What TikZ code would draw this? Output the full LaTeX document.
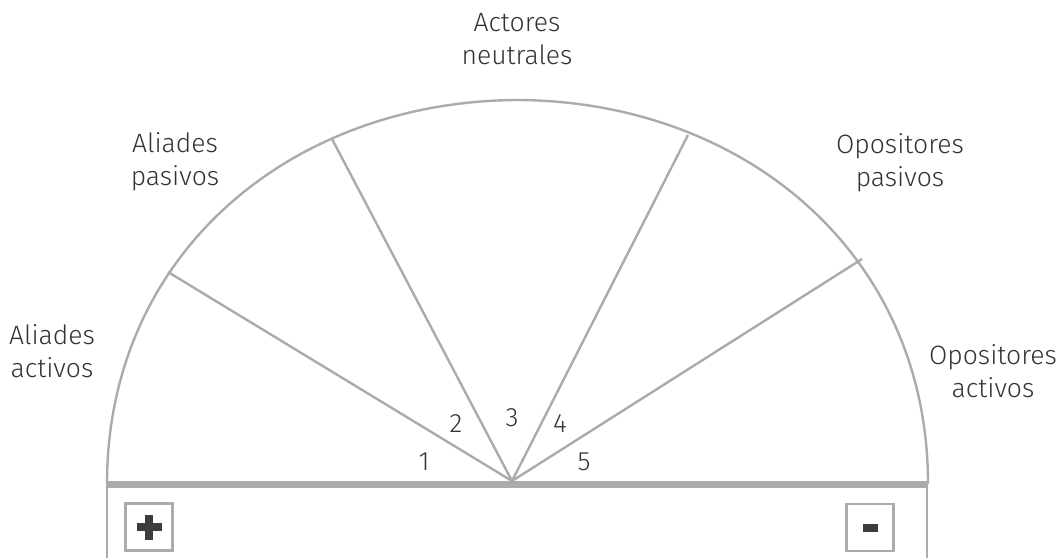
\documentclass[tikz,border=0pt]{standalone}
\usepackage{fontspec}
\setmainfont{Fira Sans Light}
\usetikzlibrary{calc}
\definecolor{linegray}{HTML}{ABABAB}
\definecolor{textgray}{HTML}{333333}
\definecolor{signgray}{HTML}{3D3D3D}
\begin{document}
\begin{tikzpicture}[x=1pt,y=-1pt,
  lbl/.style={font=\fontsize{26.5}{33}\selectfont, text=textgray, align=center, inner sep=0pt},
  num/.style={font=\fontsize{26.5}{30}\selectfont, text=textgray, inner sep=0pt},
  thinline/.style={draw=linegray, line width=2.4pt},
  baseline/.style={draw=linegray, line width=6.5pt},
  signbox/.style={draw=linegray, line width=2.4pt, minimum size=47pt, inner sep=0pt},
  sign/.style={fill=signgray, draw=none}]
\useasboundingbox (0,0) rectangle (1059,557);
% key points
\coordinate (C) at (512,481);
\coordinate (L) at (107,484.5);
\coordinate (R) at (928,484.5);
\coordinate (E1) at (168,272);
\coordinate (E2) at (332,139);
\coordinate (E3) at (688,135);
\coordinate (E4) at (862,259);
% arch
\draw[thinline] (107,484) .. controls (107,253) and (291.7,101) .. (517.5,100)
  .. controls (743.3,101) and (928,253) .. (928,484);
% spokes
\foreach \e in {E1,E2,E3,E4} \draw[thinline] (C) -- (\e);
% lower frame
\draw[thinline] (107,484) -- (107,562);
\draw[thinline] (927,484) -- (927,562);
\draw[baseline] (L) -- (R);
% sign boxes
\node[signbox] (plus) at (149,527) {};
\fill[sign] ($(plus)+(-12.5,-4)$) rectangle ($(plus)+(12.5,4)$);
\fill[sign] ($(plus)+(-4,-12.5)$) rectangle ($(plus)+(4,12.5)$);
\node[signbox] (minus) at (870,527.5) {};
\fill[sign] ($(minus)+(-7.5,-4)$) rectangle ($(minus)+(7.5,4)$);
% labels
\node[lbl] (n) at (517,39) {Actores\\neutrales};
\node[lbl] (ap) at (175,162) {Aliades\\pasivos};
\node[lbl] (op) at (900,163) {Opositores\\pasivos};
\node[lbl] (aa) at (52,351) {Aliades\\activos};
\node[lbl] (oa) at (993,371) {Opositores\\activos};
% numbers
\node[num] (n1) at (424,462) {1};
\node[num] (n2) at (456,424) {2};
\node[num] (n3) at (512,418) {3};
\node[num] (n4) at (560,424) {4};
\node[num] (n5) at (584,462) {5};
\end{tikzpicture}
\end{document}
